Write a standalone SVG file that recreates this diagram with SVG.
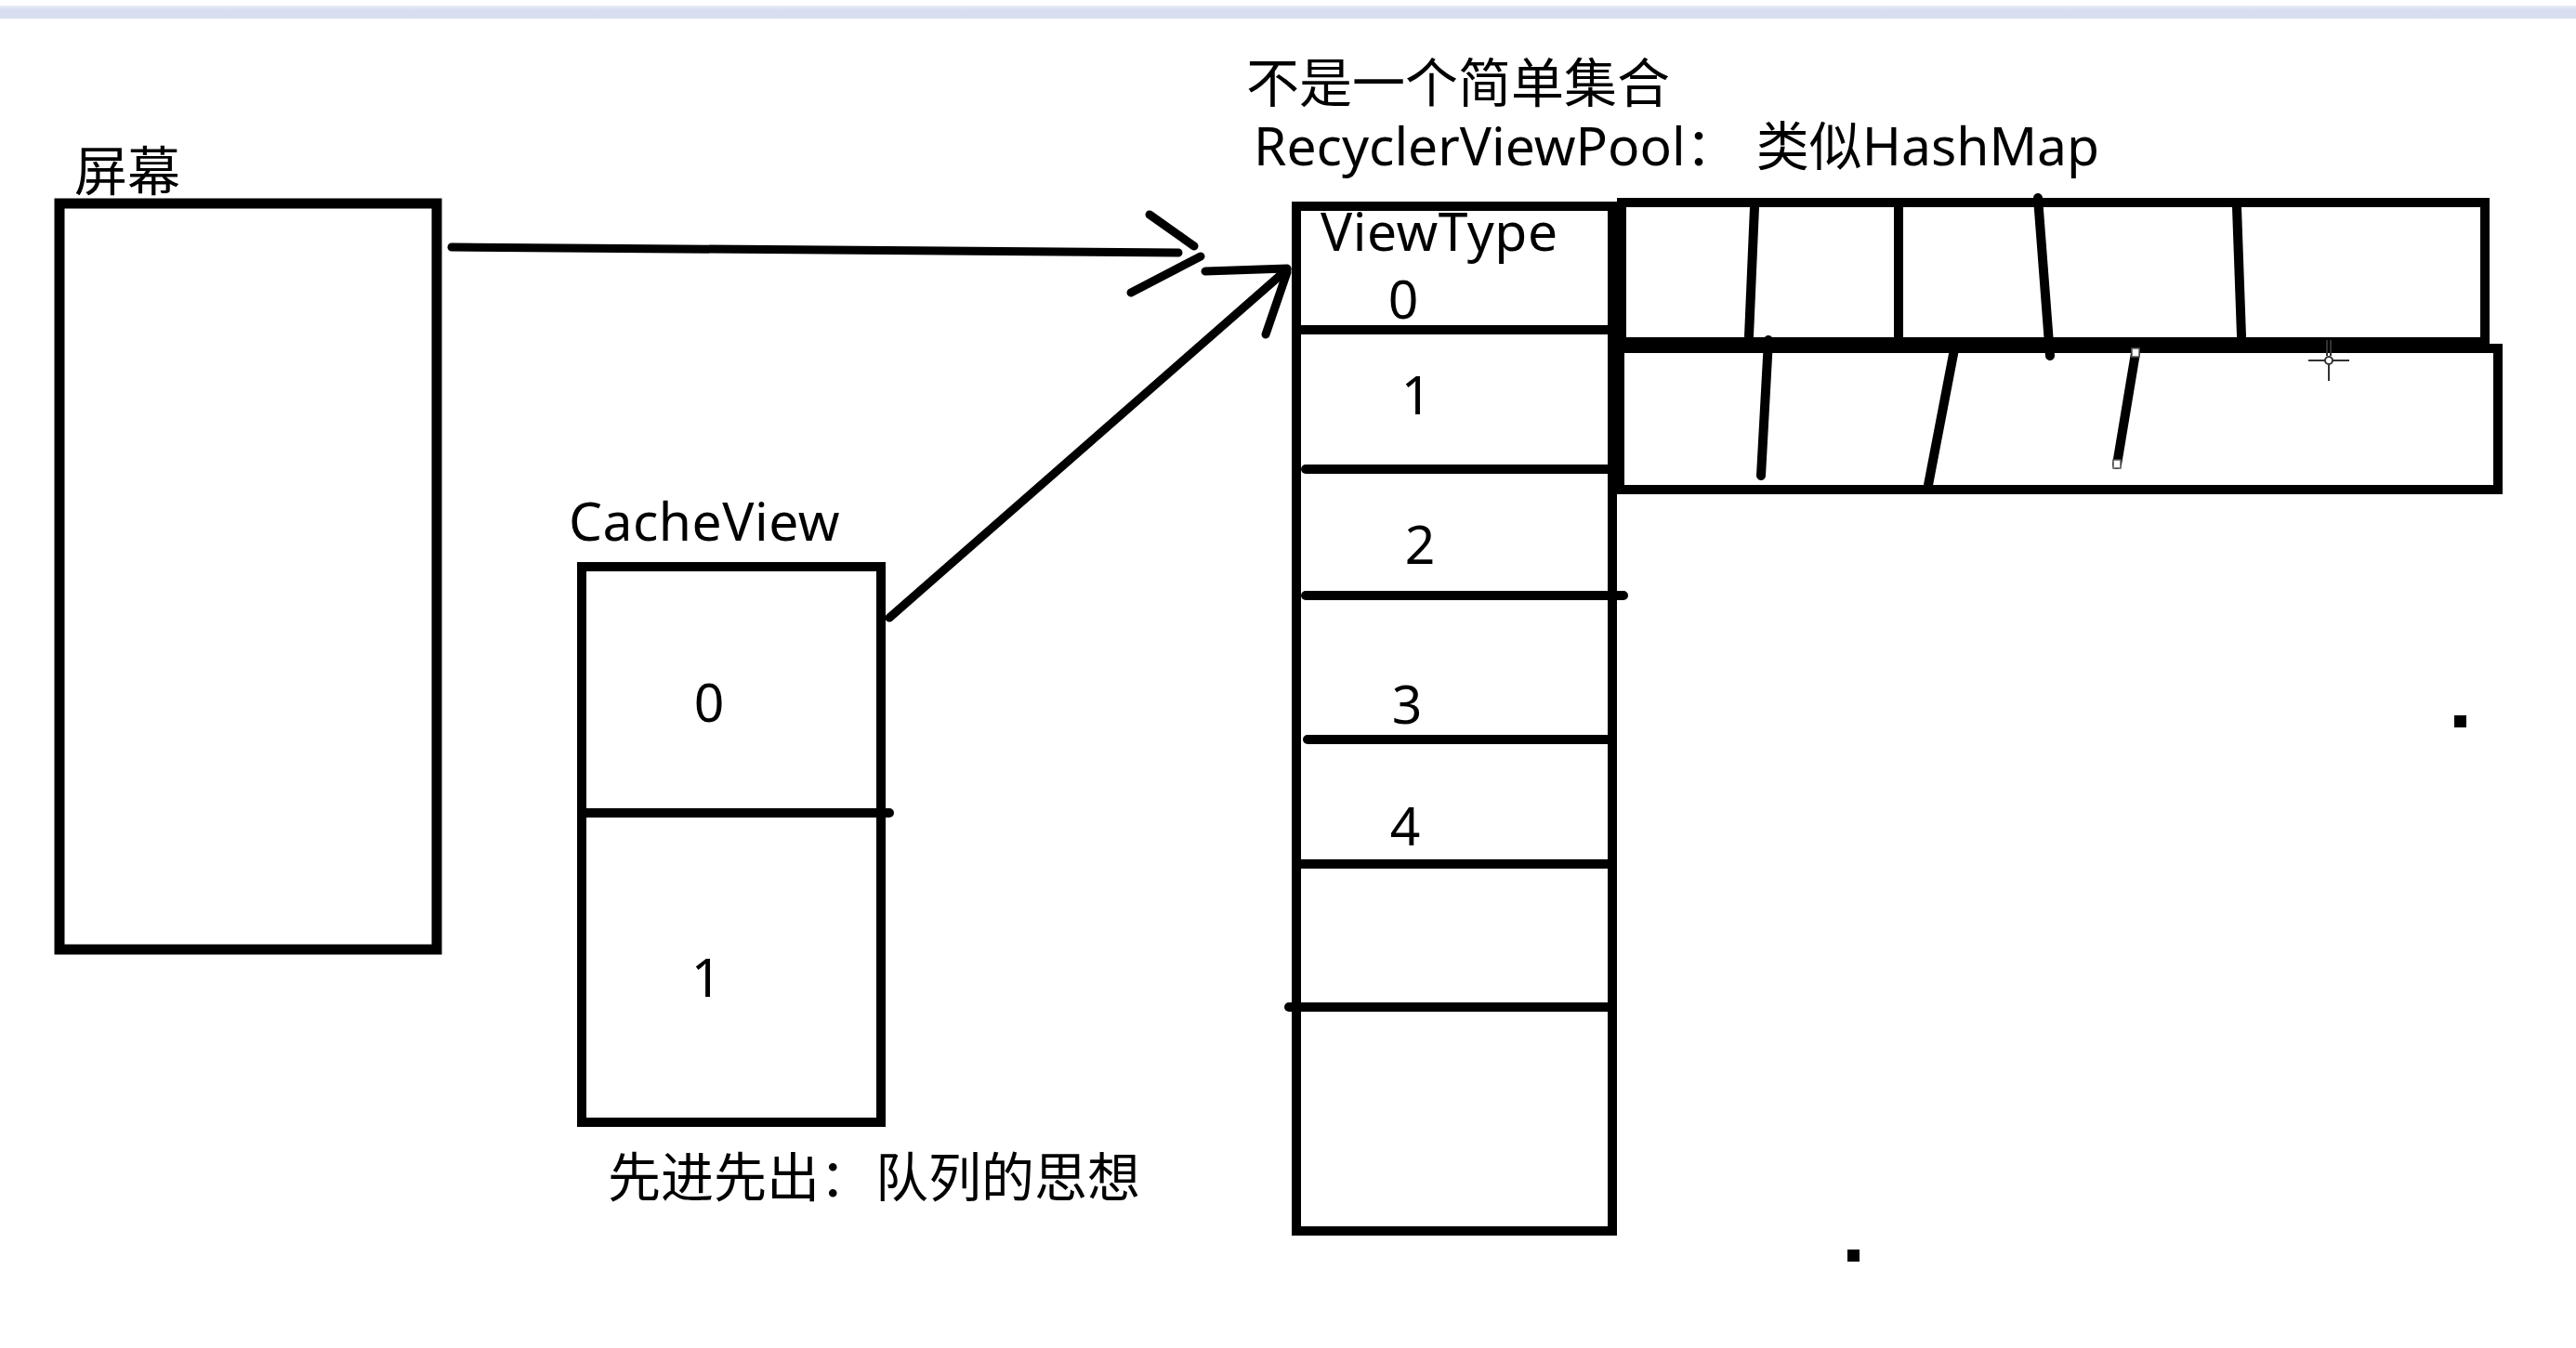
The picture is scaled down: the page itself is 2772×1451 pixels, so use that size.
<svg xmlns="http://www.w3.org/2000/svg" width="2772" height="1451" viewBox="0 0 2772 1451">
<defs>
<linearGradient id="band" x1="0" y1="0" x2="0" y2="1">
<stop offset="0" stop-color="#e8eef8"/>
<stop offset="0.35" stop-color="#d6deef"/>
<stop offset="1" stop-color="#d6deef"/>
</linearGradient>
</defs>
<style>
.box{fill:none;stroke:#000;stroke-width:10}
.ln{stroke:#000;stroke-width:10;stroke-linecap:round;fill:none}
.ar{stroke:#000;stroke-width:9;stroke-linecap:round;fill:none}
.t{font-family:"Noto Sans","Noto Sans CJK SC",sans-serif;font-size:57px;fill:#000}
.n{text-anchor:middle}
</style>
<rect width="2772" height="1451" fill="#fff"/>
<rect x="0" y="6" width="2772" height="14" fill="url(#band)"/>

<g id="screen">
<rect class="box" x="64" y="219" width="406" height="803" style="stroke-width:11"/>
<text class="t" x="80" y="205">屏幕</text>
</g>

<g id="cacheview">
<rect class="box" x="626" y="610" width="322" height="598"/>
<line class="ln" x1="626" y1="875" x2="957" y2="875"/>
<text class="t" x="612" y="582" letter-spacing="0.5">CacheView</text>
<text class="t n" x="763" y="777">0</text>
<text class="t n" x="760" y="1073">1</text>
<text class="t" x="654" y="1288">先进先出：<tspan dx="3">队列的思想</tspan></text>
</g>

<g id="pool-column">
<rect class="box" x="1395" y="222" width="340" height="1103"/>
<line class="ln" x1="1390" y1="355" x2="1735" y2="355" style="stroke-linecap:butt"/>
<line class="ln" x1="1405" y1="505" x2="1735" y2="505"/>
<line class="ln" x1="1405" y1="641" x2="1747" y2="641"/>
<line class="ln" x1="1407" y1="796" x2="1735" y2="796"/>
<line class="ln" x1="1395" y1="930" x2="1735" y2="930" style="stroke-linecap:butt"/>
<line class="ln" x1="1387" y1="1084" x2="1735" y2="1084"/>
<text class="t" x="1421" y="270" letter-spacing="0.5">ViewType</text>
<text class="t n" x="1510" y="343">0</text>
<text class="t n" x="1524" y="446">1</text>
<text class="t n" x="1528" y="607">2</text>
<text class="t n" x="1514" y="779">3</text>
<text class="t n" x="1512" y="910">4</text>
</g>

<g id="pool-title">
<text class="t" x="1341" y="110">不是一个简单集合</text>
<text class="t" x="1349" y="178">RecyclerViewPool：<tspan dx="19">类似HashMap</tspan></text>
</g>

<g id="hashmap">
<rect class="box" x="1745" y="218" width="929" height="150"/>
<rect class="box" x="1743" y="375" width="945" height="152"/>
<line class="ln" x1="1888" y1="223" x2="1882" y2="362"/>
<line class="ln" x1="2043" y1="223" x2="2043" y2="362"/>
<line class="ln" x1="2193" y1="213" x2="2206" y2="383"/>
<line class="ln" x1="2407" y1="223" x2="2412" y2="362"/>
<line class="ln" x1="1903" y1="366" x2="1895" y2="512"/>
<line class="ln" x1="2103" y1="376" x2="2075" y2="522"/>
<line class="ln" x1="2298" y1="380" x2="2278" y2="500"/>
<rect x="2294" y="375" width="8" height="9" fill="#fff" stroke="#555" stroke-width="1.5"/>
<rect x="2274" y="495" width="8" height="9" fill="#fff" stroke="#555" stroke-width="1.5"/>
</g>

<g id="connectors">
<line class="ar" x1="486" y1="266" x2="1268" y2="272"/>
<line class="ar" x1="1237" y1="231" x2="1285" y2="265"/>
<line class="ar" x1="1292" y1="276" x2="1217" y2="315"/>
<line class="ar" x1="957" y1="665" x2="1385" y2="290"/>
<line class="ar" x1="1297" y1="292" x2="1385" y2="289"/>
<line class="ar" x1="1385" y1="293" x2="1362" y2="360"/>
</g>

<g id="marks">
<rect x="2641" y="770" width="13" height="13" fill="#000"/>
<rect x="1988" y="1345" width="13" height="13" fill="#000"/>
<g stroke="#333" stroke-width="2" fill="none">
<line x1="2484" y1="388" x2="2528" y2="388"/>
<line x1="2506" y1="392" x2="2506" y2="410"/>
<line x1="2504" y1="366" x2="2504" y2="383"/>
<line x1="2508" y1="366" x2="2508" y2="383"/>
<circle cx="2506" cy="388" r="4" fill="#fff"/>
</g>
</g>
</svg>
